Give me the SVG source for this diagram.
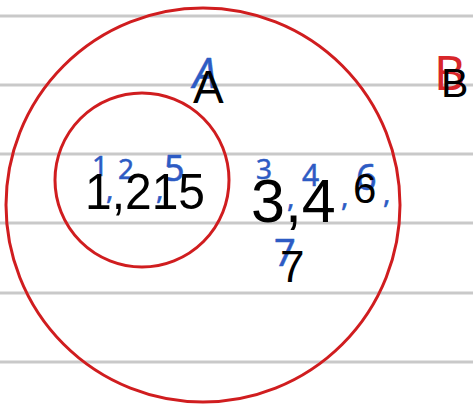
<svg xmlns="http://www.w3.org/2000/svg" width="473" height="406" viewBox="0 0 473 406">
  <style>
    .rule { stroke: #c9c9c9; stroke-width: 3; }
    .set { fill: none; stroke: #d01d1f; stroke-width: 3; }
    .hand { fill: #2d5bc4; stroke: #2d5bc4; stroke-width: 0.5; stroke-linejoin: round; font-family: "Noto Sans", "DejaVu Sans", sans-serif; font-weight: 400; }
    .handred { fill: #d8262a; font-family: "Noto Sans", "DejaVu Sans", sans-serif; font-weight: 400; }
    .lbl { fill: #000000; font-family: "Liberation Sans", Arial, sans-serif; }
  </style>
  <rect width="473" height="406" fill="#ffffff"/>
  <g id="ruled-lines">
    <line class="rule" x1="0" y1="16" x2="473" y2="16"/>
    <line class="rule" x1="0" y1="85" x2="473" y2="85"/>
    <line class="rule" x1="0" y1="154" x2="473" y2="154"/>
    <line class="rule" x1="0" y1="223" x2="473" y2="223"/>
    <line class="rule" x1="0" y1="293" x2="473" y2="293"/>
    <line class="rule" x1="0" y1="362" x2="473" y2="362"/>
  </g>
  <g id="connectors"/>
  <g id="set-outer">
    <circle class="set" cx="203" cy="205" r="197"/>
  </g>
  <g id="set-inner">
    <circle class="set" cx="142" cy="180" r="87"/>
  </g>
  <g id="handwriting">
    <text class="hand" x="193" y="88" font-size="42" font-style="italic">A</text>
    <text class="handred" x="434" y="90" font-size="48">B</text>
    <text class="hand" font-size="28"><tspan x="92" y="176">1</tspan><tspan x="106" y="199">,</tspan><tspan x="118" y="179">2</tspan><tspan x="156" y="199">,</tspan><tspan x="164" y="181" font-size="36">5</tspan></text>
    <text class="hand" font-size="28"><tspan x="256" y="179">3</tspan><tspan x="287" y="207">,</tspan><tspan x="302" y="186" font-size="30">4</tspan><tspan x="341" y="206">,</tspan><tspan x="356" y="190" font-size="36">6</tspan><tspan x="383" y="203">,</tspan></text>
    <text class="hand" x="274" y="266" font-size="38">7</text>
  </g>
  <g id="label-A">
    <text class="lbl" x="193" y="103" font-size="46">A</text>
  </g>
  <g id="label-B">
    <text class="lbl" x="441" y="97" font-size="41">B</text>
  </g>
  <g id="region-inner">
    <text class="lbl" x="85" y="209" font-size="50" textLength="120" lengthAdjust="spacingAndGlyphs">1,215</text>
  </g>
  <g id="region-outer">
    <text class="lbl" x="251" y="222" font-size="61">3,4</text>
    <text class="lbl" x="353" y="203" font-size="42">6</text>
    <text class="lbl" x="280" y="282" font-size="44">7</text>
  </g>
</svg>
